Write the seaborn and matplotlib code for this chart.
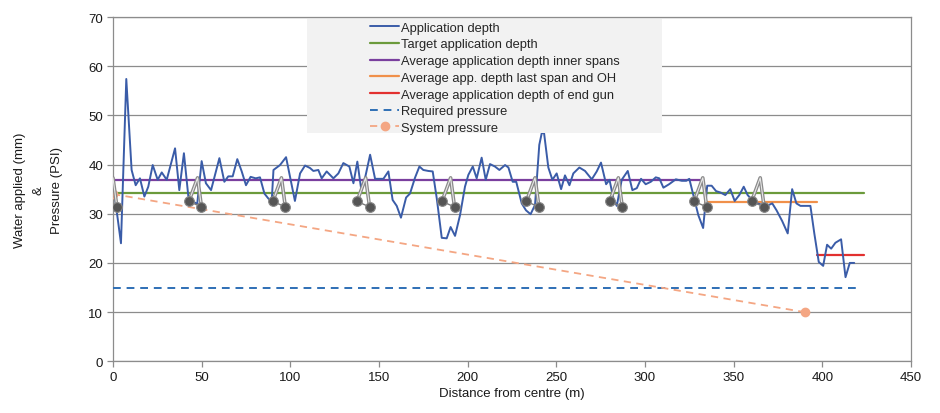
import seaborn as sns
import matplotlib.pyplot as plt
import pandas as pd
from matplotlib.patches import Rectangle

# Application depth (distance m, depth mm)
dist = [1, 4.5, 7.5, 10.5, 12.8, 15.2, 17.7, 19.9, 22.4, 25.2, 27.5, 30.3, 35, 37.4, 40, 42.5, 45, 47.5,
        50, 52.4, 55.3, 60, 62.8, 65, 67.5, 70.1, 72.6, 75, 77.6, 80.5, 82.9, 85.4, 87.6, 89.5, 90.5,
        94.2, 97.6, 102.6, 105.5, 108.3, 111.1, 113, 115.8, 117.7, 120.5, 124.3, 127.1, 129.9, 133.3,
        135.6, 137.8, 139.9, 142.1, 145, 147.8, 150.6, 152.5, 155.3, 157.7, 160, 162.4, 165.3, 167.5,
        170.3, 172.8, 175, 177.8, 180.3, 182.6, 185.4, 188.2, 190.4, 192.9, 195.7, 198.5, 200.4, 202.9,
        205.1, 207.9, 210.2, 212.6, 215.4, 217.9, 221.1, 223, 225.4, 227.4, 230.5, 232.9, 235.5, 238,
        240.4, 241.8, 243.1, 245.5, 247.8, 250.2, 252.7, 254.9, 257.4, 259.6, 263, 266.2, 270, 272.8,
        275.2, 278.1, 280, 282.2, 284.1, 286.9, 290.3, 292.9, 295.4, 297.8, 300.4, 303.3, 306.1, 308.1,
        310.4, 313.6, 317.4, 320.8, 323.3, 325, 327.3, 330.1, 332.8, 335.1, 337.6, 340.1, 342.7, 345.3,
        348.1, 350.6, 353.2, 355.7, 357.9, 360.4, 363.4, 366.2, 368.6, 371.8, 374.2, 377.4, 380.5, 383,
        385.4, 387.7, 390.5, 393.3, 395.5, 398, 400.5, 402.7, 405, 407.4, 410.6, 413.1, 415.5, 418]
depth = [33.5, 24, 57.4, 38.9, 35.8, 37.2, 33.5, 35.5, 39.9, 36.9, 38.4, 36.9, 43.3, 34.8, 42.3, 33.5, 32.5, 32.0,
         40.7, 36.2, 34.8, 41.3, 36.5, 37.6, 37.6, 41.1, 38.6, 35.8, 37.5, 37.2, 37.4, 34.1, 33.1, 32.5, 38.9,
         39.9, 41.5, 32.6, 38.2, 39.8, 39.3, 38.7, 38.9, 37.2, 38.6, 37.2, 38.2, 40.3, 39.6,
         36.2, 40.6, 35.2, 37.2, 42.0, 37.1, 37.1, 37.1, 38.6, 32.8, 31.6, 29.2, 33.3, 34.1,
         37.3, 39.6, 38.9, 38.7, 38.6, 33.1, 25.1, 25.0, 27.3, 25.5, 29.7, 35.5, 37.9, 39.6,
         37.2, 41.4, 36.9, 40.1, 39.6, 38.9, 39.9, 39.4, 36.5, 36.5, 32.1, 30.7, 29.9, 31.8,
         44.0, 46.4, 46.4, 39.4, 36.9, 38.2, 35.0, 37.8, 35.8, 38.2, 39.4, 38.7, 37.0, 38.6,
         40.4, 36.0, 36.9, 33.1, 31.6, 36.9, 38.7, 34.8, 35.2, 37.1, 36.0, 36.5, 37.4, 37.2,
         35.3, 36.0, 37.0, 36.7, 36.7, 37.1, 33.8, 29.7, 27.1, 35.7, 35.7, 34.6, 34.3, 33.8,
         35.0, 32.6, 33.8, 35.5, 33.8, 32.8, 32.1, 31.8, 31.6, 32.1, 30.7, 28.5, 26.0, 35.0,
         32.1, 31.6, 31.6, 31.6, 26.0, 20.2, 19.4, 23.7, 22.9, 24.1, 24.8, 17.1, 20.0, 20.0]

# Reference lines (start, end, value)
target_x = [0, 423.5]
target_y = [34.3, 34.3]
inner_x = [0, 331]
inner_y = [36.9, 36.9]
last_span_x = [334, 397]
last_span_y = [32.3, 32.3]
end_gun_x = [397, 423.5]
end_gun_y = [21.6, 21.6]
req_press_x = [0, 421]
req_press_y = [15, 15]
sys_press_x = [0, 390]
sys_press_y = [34, 10]

# Tower positions along the pivot (m)
towers = [0, 47.7, 95, 142.5, 190.4, 238, 285, 332.6, 365]

sns.set_theme(style="white")
plt.rcParams['font.family'] = ['Liberation Sans', 'DejaVu Sans']

fig = plt.figure(figsize=(9.4, 4.14), dpi=100)
ax = fig.add_axes([0.1202, 0.1249, 0.8489, 0.8316])

df = pd.DataFrame({"dist": dist, "depth": depth})
sns.lineplot(data=df, x="dist", y="depth", ax=ax, color="#3a5ca8", lw=1.4, sort=False,
             label="Application depth", zorder=4)
sns.lineplot(x=target_x, y=target_y, ax=ax, color="#6b9a3b", lw=1.6, label="Target application depth", zorder=3)
sns.lineplot(x=inner_x, y=inner_y, ax=ax, color="#7a3f9e", lw=1.6,
             label="Average application depth inner spans", zorder=3)
sns.lineplot(x=last_span_x, y=last_span_y, ax=ax, color="#f0904a", lw=1.6,
             label="Average app. depth last span and OH", zorder=3)
sns.lineplot(x=end_gun_x, y=end_gun_y, ax=ax, color="#e2302f", lw=1.6,
             label="Average application depth of end gun", zorder=3)
ax.plot(req_press_x, req_press_y, color="#2e6fb5", lw=1.4, ls=(0, (4, 3)), label="Required pressure", zorder=3)
ax.plot(sys_press_x, sys_press_y, color="#f4a683", lw=1.3, ls=(0, (4, 3)), marker="o", ms=6,
        mec="#f4a683", mfc="#f4a683", label="System pressure", zorder=3)

# Pivot tower icons
for t in towers:
    ax.plot([t - 4.9, t, t + 2.2], [32.5, 37.3, 31.4], color="#8a8a8a", lw=2.6,
            solid_capstyle="round", zorder=5)
    ax.plot([t - 4.9, t, t + 2.2], [32.5, 37.3, 31.4], color="#e8e8e8", lw=0.8, zorder=5)
    ax.plot([t - 4.9, t + 2.2], [32.5, 31.4], color="#7a7a7a", lw=1.0, zorder=5)
    ax.plot([t - 4.9, t + 2.2], [32.5, 31.4], ls="none", marker="o", ms=7,
            mfc="#555555", mec="#888888", mew=0.8, zorder=6)

ax.set_xlim(0, 450)
ax.set_ylim(0, 70)
ax.set_xticks(range(0, 451, 50))
ax.set_yticks(range(0, 71, 10))
ax.grid(axis="y", color="#8c8c8c", lw=0.9)
ax.grid(axis="x", visible=False)
for s in ax.spines.values():
    s.set_color("#8c8c8c")
    s.set_linewidth(0.9)
ax.tick_params(axis="both", which="both", direction="out", length=4, width=0.9, color="#8c8c8c",
               labelsize=9.5, labelcolor="#1a1a1a", pad=3, bottom=True, left=True)

ax.set_xlabel("Distance from centre (m)", fontsize=9.5, color="#1a1a1a", labelpad=3)
ax.set_ylabel("Water applied (mm)\n&\nPressure (PSI)", fontsize=9.5, color="#1a1a1a",
              labelpad=18, linespacing=1.75)

# Legend box
ax.add_patch(Rectangle((0.2427, 0.663), 0.445, 0.331, transform=ax.transAxes,
                       facecolor="#f2f2f2", edgecolor="none", zorder=8))
handles, labels = ax.get_legend_handles_labels()
leg = ax.legend(handles, labels, loc="upper left", bbox_to_anchor=(0.321, 0.99), frameon=False,
                fontsize=9.3, handlelength=2.2, handletextpad=0.2, labelspacing=0.36,
                borderpad=0.1, borderaxespad=0)
leg.set_zorder(9)

fig.savefig("out.png", dpi=100)
